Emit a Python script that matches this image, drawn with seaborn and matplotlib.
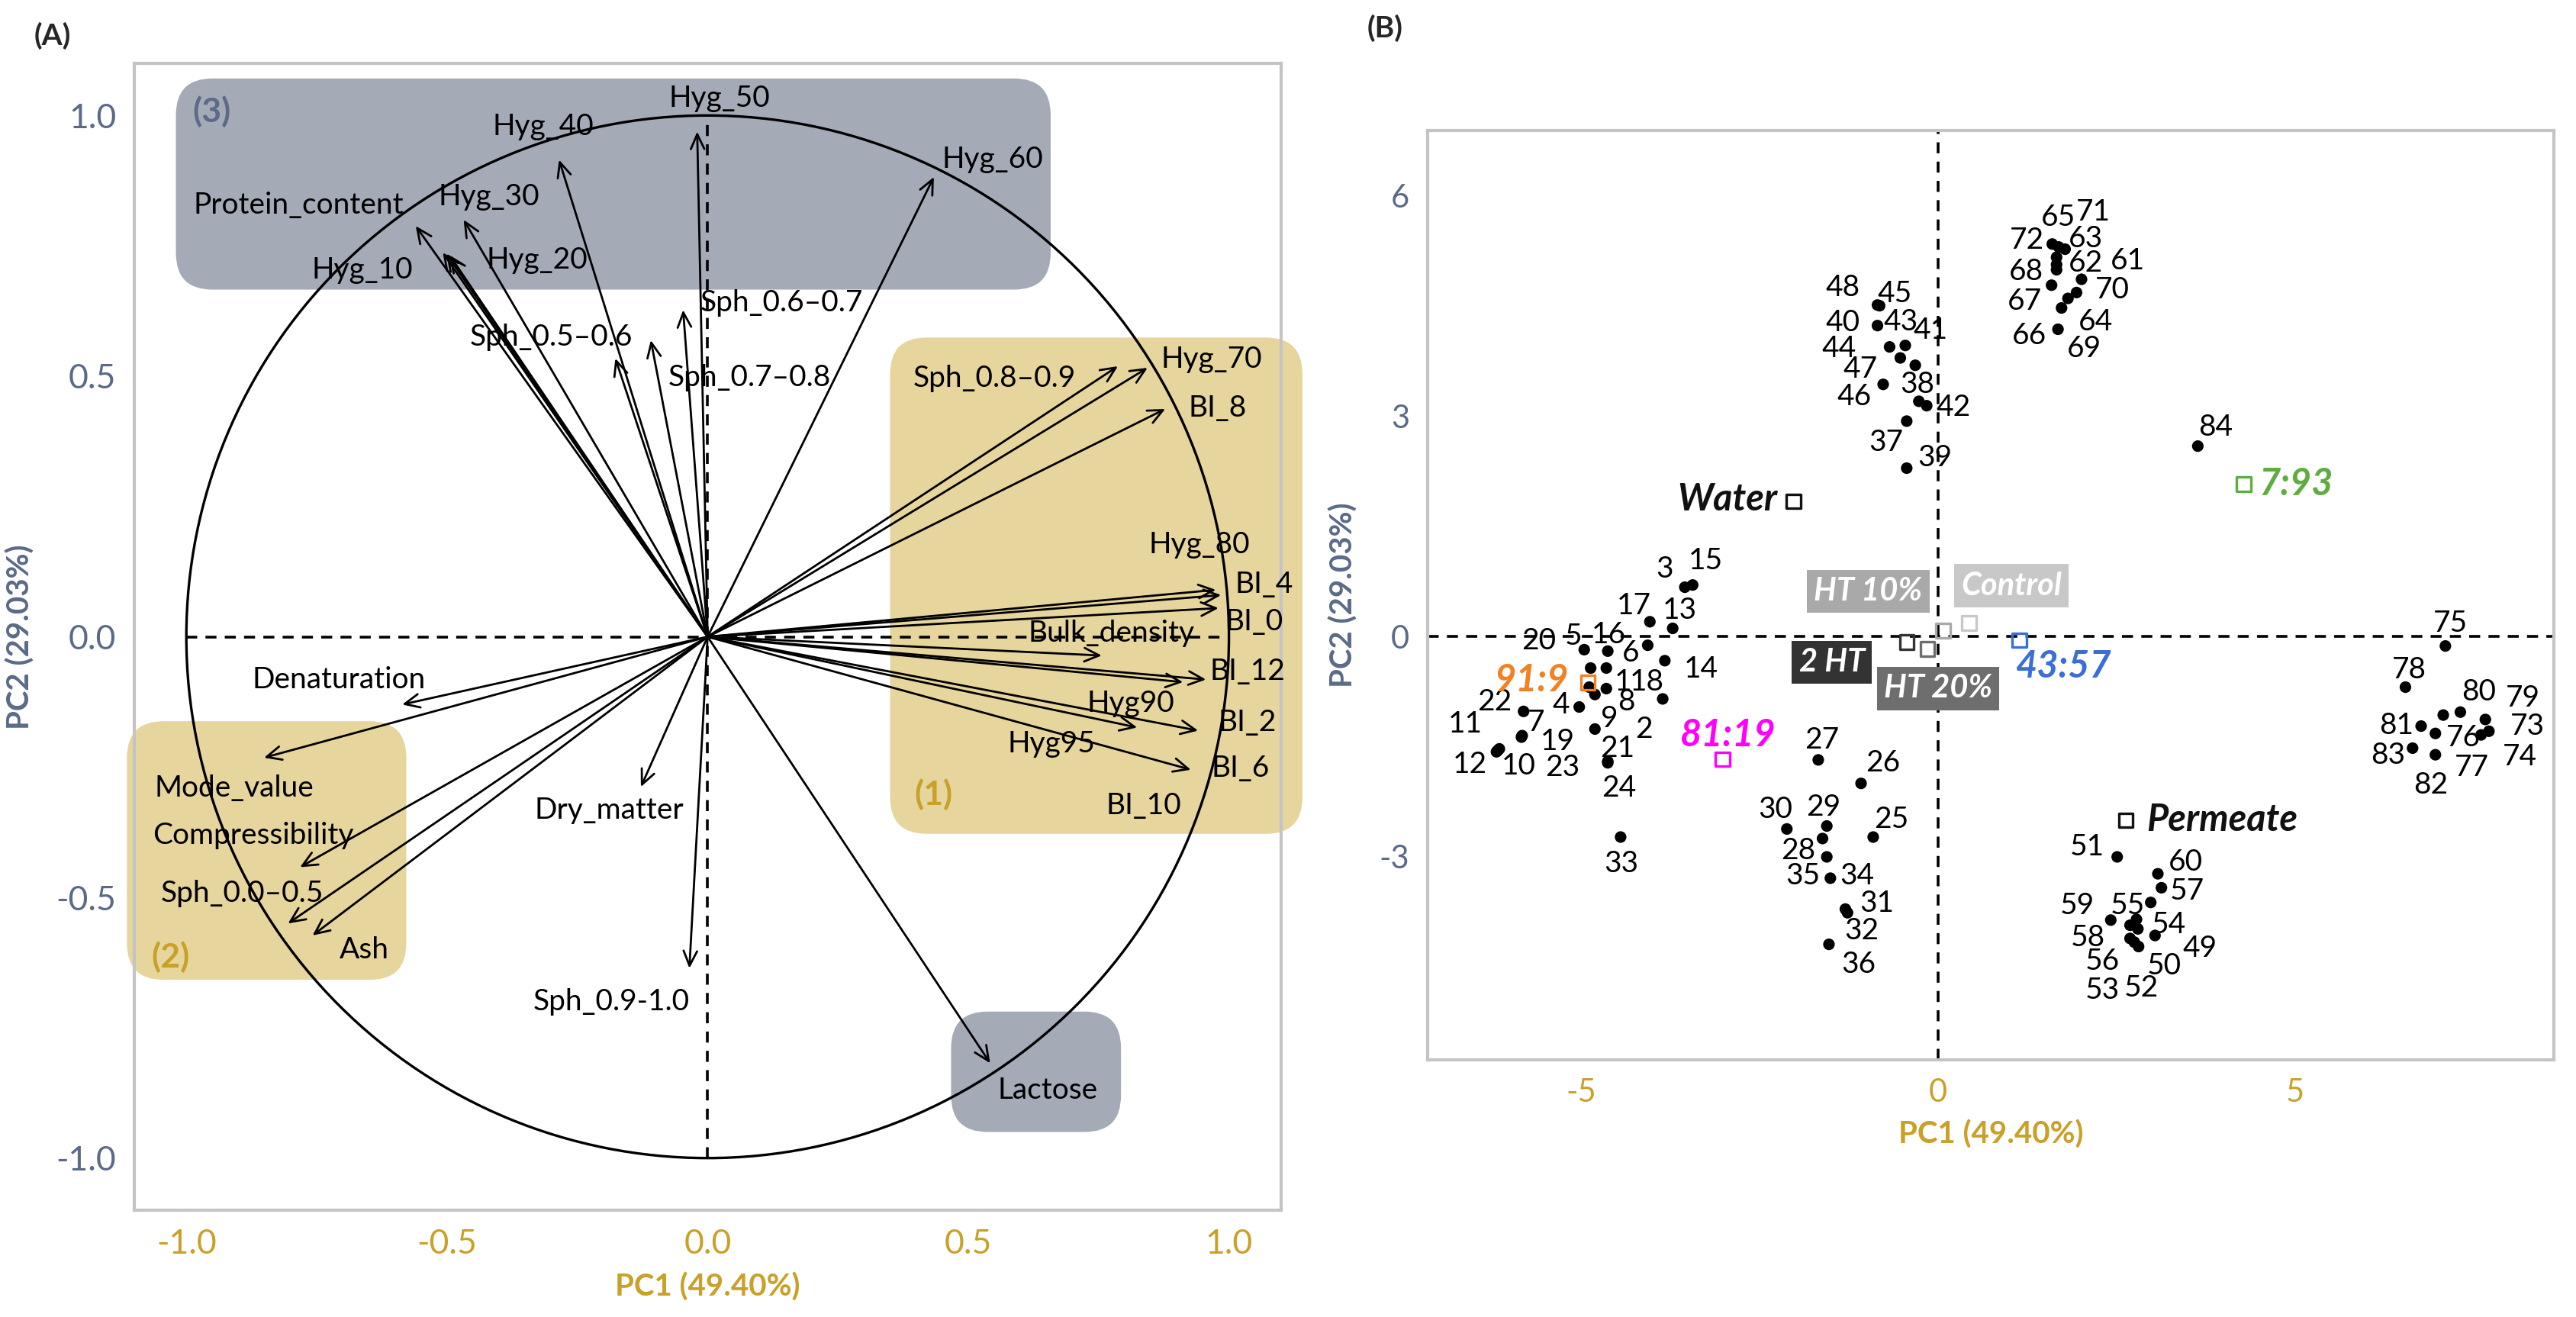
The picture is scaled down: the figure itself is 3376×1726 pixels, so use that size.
import pandas as pd
import matplotlib.pyplot as plt
import seaborn as sns
from matplotlib.patches import Circle, FancyBboxPatch, FancyArrowPatch

# ---------------- Panel A: variable loadings ----------------
arrow_pc1 = [-0.020, -0.285, 0.434, -0.560, -0.468, -0.508, -0.501, -0.495,
             -0.177, -0.109, -0.047, 0.787, 0.844, 0.878, 0.975, 0.985, 0.980,
             0.756, 0.956, 0.912, 0.824, 0.941, 0.927,
             -0.586, -0.851, -0.782, -0.805, -0.758, -0.128, -0.035, 0.542]
arrow_pc2 = [0.969, 0.915, 0.882, 0.788, 0.800, 0.737, 0.735, 0.732,
             0.534, 0.569, 0.627, 0.519, 0.516, 0.437, 0.090, 0.080, 0.055,
             -0.036, -0.082, -0.087, -0.174, -0.180, -0.255,
             -0.130, -0.232, -0.442, -0.550, -0.573, -0.288, -0.636, -0.818]

var_names = ["Hyg_50", "Hyg_40", "Hyg_60", "Protein_content", "Hyg_30", "Hyg_20", "Hyg_10",
             "Sph_0.6\u20130.7", "Sph_0.5\u20130.6", "Sph_0.7\u20130.8", "Sph_0.8\u20130.9",
             "Hyg_70", "BI_8", "Hyg_80", "BI_4", "BI_0", "Bulk_density", "BI_12", "Hyg90",
             "BI_2", "Hyg95", "BI_6", "BI_10", "Denaturation", "Mode_value", "Compressibility",
             "Sph_0.0\u20130.5", "Ash", "Dry_matter", "Sph_0.9-1.0", "Lactose"]
var_lab_x = [0.023, -0.316, 0.547, -0.785, -0.419, -0.327, -0.662, 0.142, -0.300, 0.081, 0.550,
             0.966, 0.978, 0.944, 1.068, 1.049, 0.775, 1.036, 0.812, 1.036, 0.660, 1.022, 0.836,
             -0.708, -0.909, -0.872, -0.893, -0.658, -0.189, -0.184, 0.653]
var_lab_y = [1.033, 0.979, 0.916, 0.828, 0.844, 0.722, 0.703, 0.640, 0.574, 0.497, 0.495,
             0.532, 0.438, 0.176, 0.101, 0.029, 0.006, -0.066, -0.128, -0.164, -0.206, -0.252, -0.324,
             -0.083, -0.290, -0.381, -0.492, -0.601, -0.333, -0.701, -0.870]

# highlighted regions: (x0, y0, x1, y1)
regions = [(-1.02, 0.666, 0.658, 1.071), (0.35, -0.378, 1.141, 0.574),
           (-1.114, -0.658, -0.578, -0.162), (0.467, -0.95, 0.793, -0.719)]
region_colors = ["#a4abb7", "#e6d59c", "#e6d59c", "#a4abb7"]
region_tags = ["(3)", "(1)", "(2)"]
region_tag_x = [-0.951, 0.434, -1.031]
region_tag_y = [1.008, -0.303, -0.615]
region_tag_colors = ["#5b6a86", "#c9a028", "#c9a028"]

# ---------------- Panel B: sample scores ----------------
sample_ids = ["1", "2", "3", "4", "5", "6", "7", "8", "9", "10", "11", "12", "13", "14", "15", "16",
              "17", "18", "19", "20", "21", "22", "23", "24", "25", "26", "27", "28", "29", "30",
              "31", "32", "33", "34", "35", "36", "37", "38", "39", "40", "41", "42", "43", "44",
              "45", "46", "47", "48", "49", "50", "51", "52", "53", "54", "55", "56", "57", "58",
              "59", "60", "61", "62", "63", "64", "65", "66", "67", "68", "69", "70", "71", "72",
              "73", "74", "75", "76", "77", "78", "79", "80", "81", "82", "83", "84"]
score_pc1 = [-4.65, -4.65, -3.55, -5.03, -4.87, -4.07, -5.84, -4.81, -4.81, -6.15, -6.17, -6.19,
             -3.72, -3.83, -3.44, -4.63, -4.04, -3.86, -5.83, -4.96, -4.63, -5.81, -4.89, -4.63,
             -0.91, -1.08, -1.68, -1.62, -1.56, -2.12, -1.30, -1.27, -4.45, -1.51, -1.56, -1.53,
             -0.44, -0.27, -0.44, -0.85, -0.32, -0.16, -0.46, -0.68, -0.82, -0.77, -0.53, -0.85,
             2.80, 2.81, 2.51, 2.75, 2.69, 3.04, 2.98, 2.69, 3.13, 2.78, 2.42, 3.08,
             2.01, 1.66, 1.78, 1.73, 1.69, 1.68, 1.59, 1.66, 1.82, 1.94, 1.66, 1.60,
             7.72, 7.61, 7.11, 6.97, 7.08, 6.55, 7.67, 7.32, 6.77, 6.97, 6.65, 3.64]
score_pc2 = [-0.43, -0.71, 0.67, -0.96, -0.43, -0.12, -1.37, -0.79, -1.26, -1.53, -1.55, -1.57,
             0.11, -0.33, 0.70, -0.20, 0.20, -0.85, -1.35, -0.18, -1.72, -1.02, -0.69, -1.70,
             -2.73, -2.00, -1.68, -2.75, -2.58, -2.62, -3.71, -3.76, -2.73, -3.29, -3.00, -4.19,
             2.93, 3.20, 2.29, 4.23, 3.69, 3.14, 3.96, 3.94, 4.50, 3.43, 3.79, 4.51,
             -3.98, -4.22, -3.00, -4.16, -4.11, -4.07, -3.62, -3.93, -3.42, -3.85, -3.86, -3.23,
             4.86, 5.06, 5.27, 4.47, 5.30, 4.18, 4.78, 4.99, 4.60, 4.68, 5.16, 5.34,
             -1.29, -1.34, -0.13, -1.32, -1.07, -0.69, -1.13, -1.03, -1.22, -1.61, -1.52, 2.59]
id_lab_x = [-4.42, -4.12, -3.83, -5.29, -5.11, -4.31, -5.63, -4.37, -4.61, -5.88, -6.63, -6.56,
            -3.62, -3.32, -3.26, -4.62, -4.26, -4.08, -5.33, -5.60, -4.49, -6.22, -5.27, -4.47,
            -0.66, -0.77, -1.63, -1.96, -1.61, -2.28, -0.86, -1.07, -4.44, -1.14, -1.89, -1.11,
            -0.73, -0.29, -0.05, -1.34, -0.11, 0.21, -0.52, -1.39, -0.61, -1.18, -1.09, -1.34,
            3.67, 3.17, 2.09, 2.85, 2.30, 3.23, 2.66, 2.30, 3.49, 2.10, 1.95, 3.47,
            2.66, 2.07, 2.07, 2.21, 1.68, 1.28, 1.21, 1.23, 2.05, 2.44, 2.17, 1.25,
            8.26, 8.15, 7.18, 7.36, 7.48, 6.60, 8.20, 7.58, 6.42, 6.90, 6.31, 3.89]
id_lab_y = [-0.62, -1.27, 0.91, -0.93, 0.00, -0.23, -1.17, -0.89, -1.12, -1.76, -1.19, -1.74,
            0.35, -0.45, 1.03, 0.02, 0.42, -0.62, -1.43, -0.06, -1.53, -0.89, -1.79, -2.07,
            -2.49, -1.72, -1.41, -2.92, -2.33, -2.36, -3.63, -4.01, -3.09, -3.26, -3.26, -4.46,
            2.64, 3.43, 2.43, 4.27, 4.16, 3.12, 4.28, 3.92, 4.66, 3.26, 3.64, 4.75,
            -4.25, -4.48, -2.87, -4.79, -4.82, -3.92, -3.66, -4.42, -3.47, -4.10, -3.66, -3.07,
            5.11, 5.08, 5.41, 4.28, 5.70, 4.09, 4.56, 4.96, 3.92, 4.71, 5.77, 5.39,
            -1.22, -1.64, 0.18, -1.38, -1.79, -0.46, -0.84, -0.76, -1.21, -2.02, -1.62, 2.85]

# reference powders (hollow squares)
ref_names = ["Water", "7:93", "91:9", "81:19", "43:57", "Permeate", "2 HT", "HT 20%", "HT 10%", "Control"]
ref_pc1 = [-2.03, 4.28, -4.91, -3.02, 1.14, 2.63, -0.44, -0.15, 0.07, 0.43]
ref_pc2 = [1.84, 2.07, -0.63, -1.67, -0.05, -2.50, -0.08, -0.17, 0.08, 0.18]
ref_colors = ["#111111", "#5fad41", "#f28123", "#ff00ff", "#3b6fd6", "#111111",
              "#333333", "#6e6e6e", "#a9a9a9", "#c8c8c8"]
ref_lab_x = [-2.95, 5.02, -5.70, -2.94, 1.76, 3.98, -1.49, 0.00, -0.98, 1.03]
ref_lab_y = [1.865, 2.07, -0.60, -1.34, -0.41, -2.50, -0.35, -0.71, 0.61, 0.69]
ref_boxed = [False, False, False, False, False, False, True, True, True, True]

SLATE = "#5b6a86"
GOLD = "#c9a028"

sns.set_style("white")
plt.rcParams['font.family'] = ['Lato', 'DejaVu Sans']
plt.rcParams['axes.unicode_minus'] = False

fig = plt.figure(figsize=(16.88, 8.63), dpi=200)
axA = fig.add_axes([0.0521, 0.0811, 0.4452, 0.8708])
axB = fig.add_axes([0.5542, 0.1952, 0.4372, 0.7060])

# ---- Panel A ----
for (x0, y0, x1, y1), c in zip(regions, region_colors):
    axA.add_patch(FancyBboxPatch((x0, y0), x1 - x0, y1 - y0,
                                 boxstyle="round,pad=0,rounding_size=0.07",
                                 fc=c, ec="none", zorder=0, clip_on=False))
for t, x, y, c in zip(region_tags, region_tag_x, region_tag_y, region_tag_colors):
    axA.text(x, y, t, color=c, fontsize=16, fontweight="bold", ha="center", va="center", zorder=1)

axA.add_patch(Circle((0, 0), 1, fill=False, ec="black", lw=1.2, zorder=2))
axA.plot([-1, 1], [0, 0], ls=(0, (4, 3)), color="black", lw=1.3, zorder=2)
axA.plot([0, 0], [-1, 1], ls=(0, (4, 3)), color="black", lw=1.3, zorder=2)

for x, y in zip(arrow_pc1, arrow_pc2):
    axA.add_patch(FancyArrowPatch((0, 0), (x, y),
                                  arrowstyle="->,head_length=0.35,head_width=0.16",
                                  mutation_scale=20, lw=1.0, color="black",
                                  shrinkA=0, shrinkB=0, zorder=3))
for t, x, y in zip(var_names, var_lab_x, var_lab_y):
    axA.text(x, y, t, fontsize=14, ha="center", va="center", color="black", zorder=4)

axA.set_xlim(-1.1, 1.1)
axA.set_ylim(-1.1, 1.1)
axA.set_xticks([-1.0, -0.5, 0.0, 0.5, 1.0])
axA.set_yticks([-1.0, -0.5, 0.0, 0.5, 1.0])
axA.set_xticklabels(["-1.0", "-0.5", "0.0", "0.5", "1.0"])
axA.set_yticklabels(["-1.0", "-0.5", "0.0", "0.5", "1.0"])
axA.set_xlabel("PC1 (49.40%)", fontsize=14.5, fontweight="bold", color=GOLD, labelpad=6)
axA.set_ylabel("PC2 (29.03%)", fontsize=14.5, fontweight="bold", color=SLATE, labelpad=10)

# ---- Panel B ----
axB.axhline(0, ls=(0, (4, 3)), color="black", lw=1.3, zorder=1)
axB.axvline(0, ls=(0, (4, 3)), color="black", lw=1.3, zorder=1)

scores = pd.DataFrame({"PC1": score_pc1, "PC2": score_pc2, "id": sample_ids})
sns.scatterplot(data=scores, x="PC1", y="PC2", color="black", s=30,
                edgecolor="none", ax=axB, zorder=3, legend=False)
for t, x, y in zip(sample_ids, id_lab_x, id_lab_y):
    axB.text(x, y, t, fontsize=14, ha="center", va="center", color="black", zorder=4)

refs = pd.DataFrame({"PC1": ref_pc1, "PC2": ref_pc2, "name": ref_names})
sns.scatterplot(data=refs, x="PC1", y="PC2", hue="name", palette=ref_colors,
                marker="s", s=45, linewidth=1.2, ax=axB, zorder=3, legend=False)
sq = axB.collections[-1]
sq.set_facecolor("none")
sq.set_edgecolor(ref_colors)

for t, x, y, c, boxed in zip(ref_names, ref_lab_x, ref_lab_y, ref_colors, ref_boxed):
    if boxed:
        axB.text(x, y, t, fontsize=15, fontweight="bold", fontstyle="italic", color="white",
                 ha="center", va="center", zorder=5,
                 bbox=dict(boxstyle="square,pad=0.22", fc=c, ec="none"))
    else:
        axB.text(x, y, t, fontsize=17.5, fontweight="bold", fontstyle="italic", color=c,
                 ha="center", va="center", zorder=5)

axB.set_xlim(-7.155, 8.63)
axB.set_ylim(-5.763, 6.89)
axB.set_xticks([-5, 0, 5])
axB.set_yticks([-3, 0, 3, 6])
axB.set_xticklabels(["-5", "0", "5"])
axB.set_yticklabels(["-3", "0", "3", "6"])
axB.set_xlabel("PC1 (49.40%)", fontsize=14.5, fontweight="bold", color=GOLD, labelpad=6)
axB.set_ylabel("PC2 (29.03%)", fontsize=14.5, fontweight="bold", color=SLATE, labelpad=10)

for ax, fs in [(axA, 16), (axB, 15)]:
    for s in ax.spines.values():
        s.set_color("#c4c4c4")
        s.set_linewidth(1.5)
    ax.tick_params(axis="both", length=5, width=1, color="#b8b8b8", direction="out")
    ax.tick_params(axis="x", labelcolor=GOLD, labelsize=fs)
    ax.tick_params(axis="y", labelcolor=SLATE, labelsize=fs)

fig.text(69 / 3376, 1 - 47 / 1726, "(A)", fontsize=14, fontweight="bold", ha="center", va="center")
fig.text(1815 / 3376, 1 - 37 / 1726, "(B)", fontsize=14, fontweight="bold", ha="center", va="center")

fig.savefig("out.png", dpi=200, facecolor="white")
